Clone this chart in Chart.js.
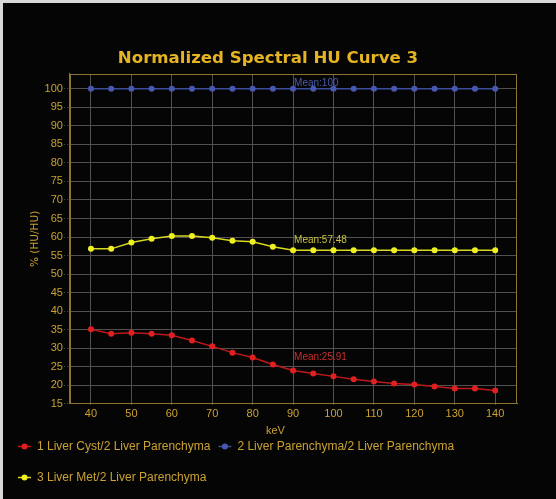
<!DOCTYPE html>
<html><head><meta charset="utf-8">
<script src="https://cdn.jsdelivr.net/npm/chart.js@4.4.0/dist/chart.umd.min.js"></script>
<style>
html,body{margin:0;padding:0;background:#d9d9d9;width:556px;height:499px;overflow:hidden;}
#wrap{position:absolute;left:3px;top:3px;width:553px;height:496px;background:#050505;}
#inner{position:absolute;left:0;top:0;width:553px;height:496px;}
</style></head><body>
<div id="wrap"><div id="inner"><canvas id="c"></canvas></div></div>
<script>
const kev = [40,45,50,55,60,65,70,75,80,85,90,95,100,105,110,115,120,125,130,135,140];
const cystRatio = [35.1,33.9,34.2,33.9,33.5,32.1,30.5,28.8,27.5,25.6,24.0,23.2,22.4,21.6,21.0,20.5,20.2,19.7,19.1,19.1,18.6];
const parenchymaRatio = [100,100,100,100,100,100,100,100,100,100,100,100,100,100,100,100,100,100,100,100,100];
const metRatio = [56.8,56.8,58.5,59.5,60.3,60.3,59.8,59.0,58.7,57.4,56.4,56.4,56.4,56.4,56.4,56.4,56.4,56.4,56.4,56.4,56.4];
const seriesNames = ['1 Liver Cyst/2 Liver Parenchyma','2 Liver Parenchyma/2 Liver Parenchyma','3 Liver Met/2 Liver Parenchyma'];
const meanLabels = ['Mean:25.91','Mean:100','Mean:57.48'];
const meanAtKev = 90;
const xTicks = [40,50,60,70,80,90,100,110,120,130,140];
const yTicks = [15,20,25,30,35,40,45,50,55,60,65,70,75,80,85,90,95,100];
const titleText = 'Normalized Spectral HU Curve 3';
const xTitle = 'keV';
const yTitle = '% (HU/HU)';

const lineColors = ['#c01818','#3c4c9c','#d8d820'];
const pointColors = ['#e02020','#4858b0','#f0f020'];
const labelColors = ['#c83030','#4c5ca8','#c8c040'];
const gold = '#caa232';
const tickFont = { family: '"Liberation Sans", sans-serif', size: 11 };

const allSeries = [cystRatio, parenchymaRatio, metRatio];
const datasets = allSeries.map((arr,i)=>({
  label: seriesNames[i],
  data: kev.map((k,j)=>({x:k, y:arr[j]})),
  borderColor: lineColors[i],
  backgroundColor: pointColors[i],
  pointBackgroundColor: pointColors[i],
  pointBorderColor: pointColors[i],
  pointRadius: 3,
  pointBorderWidth: 0,
  borderWidth: 1.5,
  tension: 0,
  fill: false
}));

const framePlugin = {
  id: 'frame',
  afterLayout(chart){
    if (chart.legend) { chart.legend.left -= 9; chart.legend.right -= 9; }
  },
  beforeDatasetsDraw(chart){
    const {ctx, chartArea:a} = chart;
    ctx.save();
    ctx.strokeStyle = '#8c7434'; ctx.lineWidth = 1;
    ctx.strokeRect(Math.round(a.left)+0.5, Math.round(a.top)+0.5, Math.round(a.right-a.left)-1, Math.round(a.bottom-a.top)-1);
    ctx.restore();
  },
  afterDatasetsDraw(chart){
    const {ctx, scales:{x,y}, chartArea:a} = chart;
    const idx = kev.indexOf(meanAtKev);
    ctx.save();
    ctx.font = '10px "Liberation Sans", sans-serif';
    ctx.textAlign = 'left'; ctx.textBaseline = 'alphabetic';
    const offs = [10, 3, 7];
    allSeries.forEach((arr,i)=>{
      ctx.fillStyle = labelColors[i];
      ctx.fillText(meanLabels[i], x.getPixelForValue(meanAtKev)+1, y.getPixelForValue(arr[idx]) - offs[i]);
    });
    ctx.fillStyle = gold;
    ctx.font = '11px "Liberation Sans", sans-serif';
    ctx.textAlign = 'center'; ctx.textBaseline = 'middle';
    ctx.fillText(xTitle, (a.left+a.right)/2 - 18, a.bottom + 27);
    ctx.restore();
  },
  afterDraw(chart){
    const lg = chart.legend;
    if (!lg || !lg.legendHitBoxes) return;
    const ctx = chart.ctx;
    ctx.save();
    lg.legendHitBoxes.forEach((hb,i)=>{
      const cy = hb.top + hb.height/2;
      ctx.strokeStyle = lineColors[i]; ctx.lineWidth = 1.5;
      ctx.beginPath(); ctx.moveTo(hb.left, cy); ctx.lineTo(hb.left+13, cy); ctx.stroke();
      ctx.fillStyle = pointColors[i];
      ctx.beginPath(); ctx.arc(hb.left+6.5, cy, 3, 0, Math.PI*2); ctx.fill();
    });
    ctx.restore();
  }
};

new Chart(document.getElementById('c'), {
  type: 'line',
  data: { datasets },
  options: {
    responsive: true,
    maintainAspectRatio: false,
    animation: false,
    layout: { padding: { left: 16, right: 39, top: 0, bottom: 0 } },
    plugins: {
      title: {
        display: true, text: titleText, color: '#e6b422',
        font: { family: '"DejaVu Sans", sans-serif', size: 16.6, weight: 'bold' },
        padding: { top: 46, bottom: 5 }
      },
      legend: {
        position: 'bottom', align: 'start',
        labels: {
          color: gold, font: { family: '"Liberation Sans", sans-serif', size: 12 },
          usePointStyle: false, boxWidth: 13, boxHeight: 23, padding: 8,
          generateLabels(chart){
            return chart.data.datasets.map((d,i)=>({
              text: d.label, fillStyle: 'rgba(0,0,0,0)', strokeStyle: 'rgba(0,0,0,0)',
              fontColor: gold, datasetIndex: i, hidden: false, lineWidth: 0
            }));
          }
        }
      },
      tooltip: { enabled: false }
    },
    scales: {
      x: {
        type: 'linear', min: 34.8, max: 145.4,
        afterBuildTicks(s){ s.ticks = xTicks.map(v=>({value:v})); },
        afterFit(s){ s.height += 3; },
        grid: { color: '#505050', borderDash:[1,2], tickBorderDash:[1,2], drawTicks: true, tickLength: 1 },
        border: { display: true, color: '#8c7434', width: 1 },
        ticks: { color: gold, font: tickFont, padding: 3, maxRotation: 0, callback: v => String(v) }
      },
      y: {
        min: 15, max: 104,
        afterBuildTicks(s){ s.ticks = yTicks.map(v=>({value:v})); },
        grid: { color: '#505050', borderDash:[1,2], tickBorderDash:[1,2], drawTicks: true, tickLength: 6 },
        border: { display: true, color: '#8c7434', width: 1 },
        ticks: { color: gold, font: tickFont, padding: 1, callback: v => String(v) },
        title: { display: true, text: yTitle, color: gold, font: { family: '"DejaVu Sans", sans-serif', size: 10.5 }, padding: { top: 10, bottom: 2 } }
      }
    }
  },
  plugins: [framePlugin]
});
</script>
</body></html>
